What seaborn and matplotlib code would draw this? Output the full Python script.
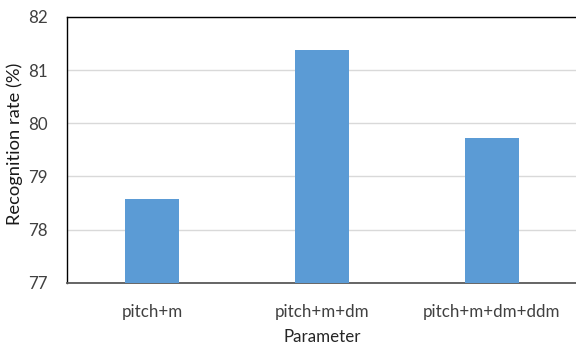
import matplotlib
matplotlib.use("Agg")
import matplotlib.pyplot as plt
import seaborn as sns
import pandas as pd

parameters = ["pitch+m", "pitch+m+dm", "pitch+m+dm+ddm"]
recognition_rate = [78.57, 81.37, 79.72]
y_ticks = [77, 78, 79, 80, 81, 82]

df = pd.DataFrame({"Parameter": parameters, "Rate": recognition_rate})

sns.set_theme(style="white")
plt.rcParams["font.family"] = ["Lato", "DejaVu Sans"]

fig = plt.figure(figsize=(5.76, 3.46), dpi=100)
ax = fig.add_axes([67 / 576, 1 - 282.7 / 346, 510 / 576, (282.7 - 17) / 346])

sns.barplot(data=df, x="Parameter", y="Rate", color="#5B9BD5", saturation=1,
            width=0.32, linewidth=0, ax=ax, zorder=3)

ax.set_ylim(77, 82)
ax.set_yticks(y_ticks)
ax.set_xlim(-0.5, 2.5)
ax.yaxis.grid(True, color="#D9D9D9", linewidth=1, zorder=0)
ax.set_axisbelow(True)

for side in ["left", "top"]:
    ax.spines[side].set_color("black")
    ax.spines[side].set_linewidth(1)
ax.spines["bottom"].set_color("#595959")
ax.spines["bottom"].set_linewidth(1.3)
ax.spines["right"].set_visible(False)

ax.tick_params(axis="both", length=0, labelsize=12.2, labelcolor="#404040")
ax.tick_params(axis="x", pad=15)
ax.tick_params(axis="y", pad=14)
ax.set_xlabel("Parameter", fontsize=12.2, color="#262626", labelpad=7)
ax.set_ylabel("Recognition rate (%)", fontsize=13.2, color="#1a1a1a")
ax.yaxis.set_label_coords(-0.0863, 0.524)

fig.savefig("out.png", dpi=100)
